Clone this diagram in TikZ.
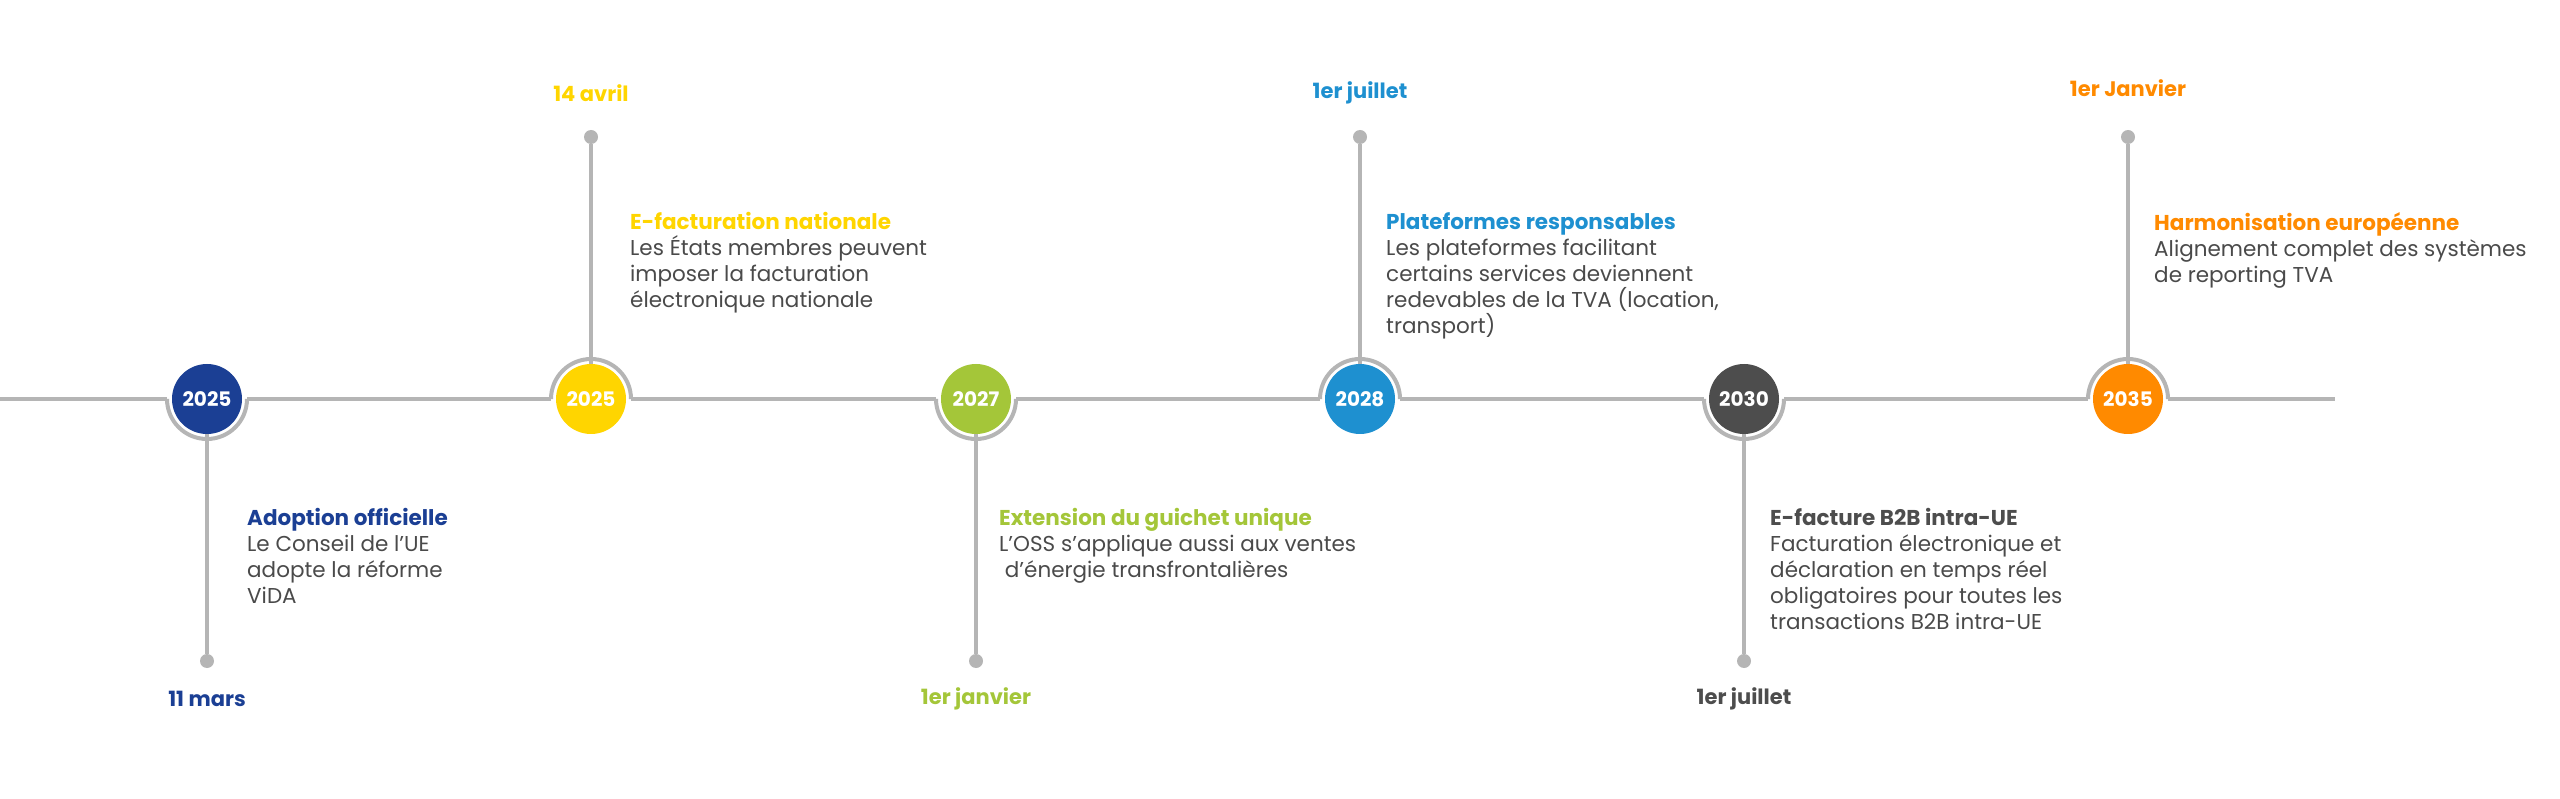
\documentclass[tikz,border=0pt]{standalone}
\usepackage{fontspec}
\setmainfont{Poppins}
\definecolor{cblue}{HTML}{1B3F94}
\definecolor{cyel}{HTML}{FFD500}
\definecolor{cgreen}{HTML}{A4C639}
\definecolor{csky}{HTML}{1E90D0}
\definecolor{cdark}{HTML}{4D4D4D}
\definecolor{corange}{HTML}{FF8A00}
\definecolor{lgray}{HTML}{B5B5B5}
\definecolor{tgray}{HTML}{4A4A4A}
\begin{document}
\begin{tikzpicture}[x=1pt,y=-1pt,
  yearc/.style={circle,minimum size=70pt,inner sep=0pt,text=white,font=\fontsize{20}{20}\selectfont\bfseries},
  gline/.style={lgray,line width=4pt},
  dotc/.style={circle,fill=lgray,minimum size=14pt,inner sep=0pt},
  datel/.style={font=\fontsize{21}{21}\selectfont\bfseries},
  desc/.style={anchor=north west,align=left,inner sep=0pt,text=tgray,font=\fontsize{21.5}{26}\selectfont}]
\useasboundingbox (0,0) rectangle (2560,799);
\coordinate (L) at (0,399); \coordinate (R) at (2335,399);
\draw[gline] (L) -- (R);
\foreach \x/\c/\y/\n/\dy in {207/cblue/2025/a/1,591/cyel/2025/b/-1,976/cgreen/2027/c/1,1360/csky/2028/d/-1,1744/cdark/2030/e/1,2128/corange/2035/f/-1}{
  \fill[white] (\x,399) circle (40);
  \ifnum\dy=1
    \draw[gline] (\x-40,399) arc[start angle=180,end angle=0,radius=40];
  \else
    \draw[gline] (\x-40,399) arc[start angle=-180,end angle=0,radius=40];
  \fi
  \node[yearc,fill=\c] (\n) at (\x,399) {\y};
}
\foreach \n/\x/\yy in {a/207/661,b/591/137,c/976/661,d/1360/137,e/1744/661,f/2128/137}{
  \node[dotc] (\n d) at (\x,\yy) {};
  \draw[gline] (\n) -- (\n d);
}
\node[datel,text=cblue] (da) at (207,699) {11 mars};
\node[datel,text=cyel] (db) at (591,93) {14 avril};
\node[datel,text=cgreen] (dc) at (976,699) {1er janvier};
\node[datel,text=csky] (dd) at (1360,93) {1er juillet};
\node[datel,text=cdark] (de) at (1744,699) {1er juillet};
\node[datel,text=corange] (df) at (2128,88) {1er Janvier};
\node[desc] (ta) at (247,508) {\textbf{\color{cblue}Adoption officielle}\\Le Conseil de l’UE\\adopte la réforme\\ViDA};
\node[desc] (tb) at (630,212) {\textbf{\color{cyel}E-facturation nationale}\\Les États membres peuvent\\imposer la facturation\\électronique nationale};
\node[desc] (tc) at (999,508) {\textbf{\color{cgreen}Extension du guichet unique}\\L’OSS s’applique aussi aux ventes\\\ d’énergie transfrontalières};
\node[desc] (td) at (1386,212) {\textbf{\color{csky}Plateformes responsables}\\Les plateformes facilitant\\certains services deviennent\\redevables de la TVA (location,\\transport)};
\node[desc] (te) at (1770,508) {\textbf{\color{cdark}E-facture B2B intra-UE}\\Facturation électronique et\\déclaration en temps réel\\obligatoires pour toutes les\\transactions B2B intra-UE};
\node[desc] (tf) at (2154,212) {\textbf{\color{corange}Harmonisation européenne}\\Alignement complet des systèmes\\de reporting TVA};
\end{tikzpicture}
\end{document}
